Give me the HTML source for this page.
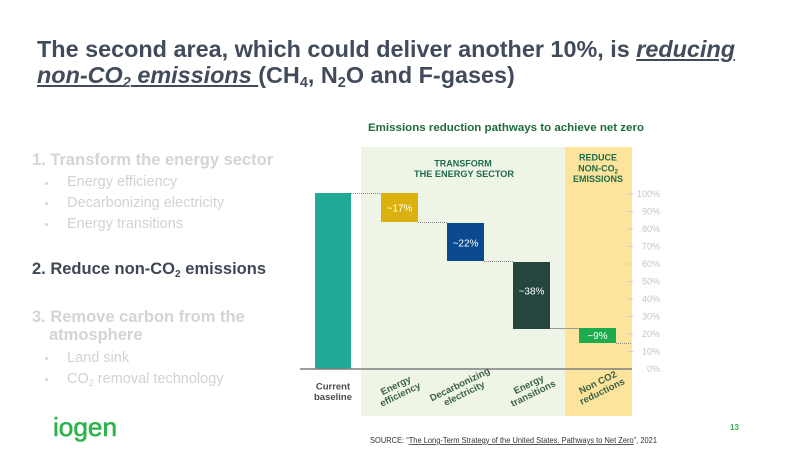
<!DOCTYPE html>
<html>
<head>
<meta charset="utf-8">
<style>
  html,body{margin:0;padding:0;background:#fff;}
  body{width:800px;height:450px;position:relative;overflow:hidden;font-family:"Liberation Sans",Arial,sans-serif;}
  .title{position:absolute;left:37px;top:36px;font-size:23.4px;line-height:26px;font-weight:bold;color:#414b5b;white-space:nowrap;}
  .title em{text-decoration:underline;text-decoration-thickness:2px;text-underline-offset:2px;}
  .sub{font-size:0.62em;position:relative;top:0.3em;vertical-align:baseline;line-height:0;}
  .l{position:absolute;white-space:nowrap;}
  .h{font-size:16.5px;font-weight:bold;line-height:20px;height:20px;}
  .b{font-size:14.5px;line-height:18px;height:18px;color:#d2d2d2;}
  .g{color:#d4d4d4;}
  .d{color:#3e4756;}
  .dot{position:absolute;left:45px;width:3px;height:3px;border-radius:50%;background:#d6d6d6;}
  svg{position:absolute;left:0;top:0;}
</style>
</head>
<body>
<div class="title">The second area, which could deliver another 10%, is <em>reducing</em><br><em>non-CO<span class="sub">2</span> emissions </em>(CH<span class="sub">4</span>, N<span class="sub">2</span>O and F-gases)</div>

<div class="l h g" style="left:32px;top:150px;">1. Transform the energy sector</div>
<div class="dot" style="top:182px;"></div>
<div class="l b" style="left:67px;top:173px;">Energy efficiency</div>
<div class="dot" style="top:202px;"></div>
<div class="l b" style="left:67px;top:194px;">Decarbonizing electricity</div>
<div class="dot" style="top:223px;"></div>
<div class="l b" style="left:67px;top:215px;">Energy transitions</div>

<div class="l h d" style="left:32px;top:259px;">2. Reduce non-CO<span class="sub">2</span> emissions</div>

<div class="l h g" style="left:32px;top:307px;">3. Remove carbon from the</div>
<div class="l h g" style="left:49px;top:325px;">atmosphere</div>
<div class="dot" style="top:357px;"></div>
<div class="l b" style="left:67px;top:349px;">Land sink</div>
<div class="dot" style="top:378px;"></div>
<div class="l b" style="left:67px;top:370px;">CO<span class="sub">2</span> removal technology</div>

<svg width="800" height="450" viewBox="0 0 800 450" xmlns="http://www.w3.org/2000/svg" font-family="Liberation Sans, Arial, sans-serif">
  <!-- logo -->
  <text x="53" y="436" font-size="26" fill="#2eb34b" stroke="#2eb34b" stroke-width="0.6" textLength="64" lengthAdjust="spacingAndGlyphs">iogen</text>

  <!-- chart title -->
  <text x="368" y="131" font-size="11" font-weight="bold" fill="#1f6b3d" textLength="276" lengthAdjust="spacingAndGlyphs">Emissions reduction pathways to achieve net zero</text>

  <!-- zone backgrounds -->
  <rect x="361" y="147" width="204" height="269" fill="#eef5e7"/>
  <rect x="565" y="147" width="67" height="269" fill="#fce49c"/>

  <!-- zone headers -->
  <g font-size="9" font-weight="bold" fill="#1f6b4a" text-anchor="middle">
    <text x="463" y="166.5">TRANSFORM</text>
    <text x="464" y="177" textLength="100" lengthAdjust="spacingAndGlyphs">THE ENERGY SECTOR</text>
    <text x="598" y="160.5">REDUCE</text>
    <text x="598" y="171.5">NON-CO<tspan font-size="6" dy="2">2</tspan></text>
    <text x="598" y="182" textLength="50" lengthAdjust="spacingAndGlyphs">EMISSIONS</text>
  </g>

  <!-- y axis ticks and labels -->
  <g stroke="#cfcfcf" stroke-width="1">
    <line x1="627" y1="194" x2="633" y2="194"/>
    <line x1="627" y1="211.5" x2="633" y2="211.5"/>
    <line x1="627" y1="229" x2="633" y2="229"/>
    <line x1="627" y1="246.5" x2="633" y2="246.5"/>
    <line x1="627" y1="264" x2="633" y2="264"/>
    <line x1="627" y1="281.5" x2="633" y2="281.5"/>
    <line x1="627" y1="299" x2="633" y2="299"/>
    <line x1="627" y1="316.5" x2="633" y2="316.5"/>
    <line x1="627" y1="334" x2="633" y2="334"/>
    <line x1="627" y1="351.5" x2="633" y2="351.5"/>
  </g>
  <g font-size="9" fill="#c4c4c4" text-anchor="end">
    <text x="660" y="197">100%</text>
    <text x="660" y="214.5">90%</text>
    <text x="660" y="232">80%</text>
    <text x="660" y="249.5">70%</text>
    <text x="660" y="267">60%</text>
    <text x="660" y="284.5">50%</text>
    <text x="660" y="302">40%</text>
    <text x="660" y="319.5">30%</text>
    <text x="660" y="337">20%</text>
    <text x="660" y="354.5">10%</text>
    <text x="660" y="372">0%</text>
  </g>

  <!-- connectors -->
  <g stroke="#8a8a8a" stroke-width="1" stroke-dasharray="1,1">
    <line x1="351" y1="193.5" x2="381" y2="193.5"/>
    <line x1="418" y1="222.5" x2="447" y2="222.5"/>
    <line x1="484" y1="261.5" x2="513" y2="261.5"/>
    <line x1="616" y1="343.5" x2="632" y2="343.5"/>
  </g>
  <line x1="550" y1="328.5" x2="579" y2="328.5" stroke="#9a9a9a" stroke-width="1"/>

  <!-- bars -->
  <rect x="315" y="193" width="36" height="176" fill="#21a998"/>
  <rect x="381" y="193" width="37" height="29" fill="#dbb10e"/>
  <rect x="447" y="223" width="37" height="38" fill="#0c4a8f"/>
  <rect x="513" y="262" width="37" height="67" fill="#25463f"/>
  <rect x="579" y="328" width="37" height="15" fill="#1dab4e"/>

  <g font-size="10" fill="#ffffff" text-anchor="middle">
    <text x="399.5" y="211.5">~17%</text>
    <text x="465.5" y="246.5">~22%</text>
    <text x="531.5" y="294.5">~38%</text>
    <text x="597.5" y="339">~9%</text>
  </g>

  <!-- axis -->
  <line x1="300" y1="369" x2="632" y2="369" stroke="#7f7f7f" stroke-width="1.5"/>

  <!-- category labels -->
  <g font-size="9.5" font-weight="bold" fill="#4a4a4a" text-anchor="middle">
    <text x="333" y="389.5">Current</text>
    <text x="333" y="400">baseline</text>
  </g>
  <g font-size="9.5" font-weight="bold" fill="#3d6146" text-anchor="middle">
    <g transform="translate(398,390) rotate(-26)">
      <text x="0" y="-2">Energy</text>
      <text x="0" y="8">efficiency</text>
    </g>
    <g transform="translate(462,389) rotate(-26)">
      <text x="0" y="-2">Decarbonizing</text>
      <text x="0" y="8">electricity</text>
    </g>
    <g transform="translate(531,389) rotate(-26)">
      <text x="0" y="-2">Energy</text>
      <text x="0" y="8">transitions</text>
    </g>
    <g transform="translate(600,387) rotate(-26)">
      <text x="0" y="-2">Non CO2</text>
      <text x="0" y="8">reductions</text>
    </g>
  </g>

  <!-- source -->
  <text x="370" y="443" font-size="8" fill="#333" textLength="287" lengthAdjust="spacingAndGlyphs">SOURCE: “<tspan text-decoration="underline">The Long-Term Strategy of the United States, Pathways to Net Zero</tspan>”, 2021</text>

  <!-- page number -->
  <text x="730" y="430" font-size="8" font-weight="bold" fill="#2eb34b">13</text>
</svg>
</body>
</html>
